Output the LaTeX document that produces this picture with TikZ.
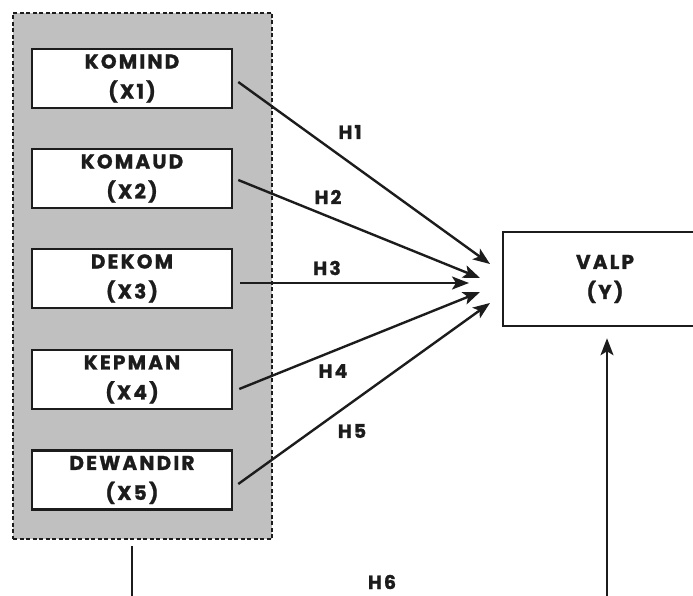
\documentclass[tikz,border=0pt]{standalone}
\usepackage{fontspec}
\setmainfont{Poppins}
\newfontfamily\boxfont{Poppins}[LetterSpace=11, BoldFeatures={FakeBold=1.2}]
\usetikzlibrary{arrows.meta,calc}

\definecolor{panelgray}{RGB}{192,192,192}
\definecolor{ink}{RGB}{28,28,28}

\tikzset{
  varbox/.style={draw=ink, line width=2.5pt, fill=white, minimum width=200pt,
    minimum height=59pt, inner sep=0pt, align=center, text=ink,
    font=\boxfont\bfseries\fontsize{20}{30}\selectfont},
  panel/.style={draw=ink, line width=2.4pt, fill=panelgray,
    dash pattern=on 4pt off 2.5pt, minimum width=259pt, minimum height=526pt,
    inner sep=0pt},
  link/.style={draw=ink, line width=2.4pt,
    -{Stealth[length=17pt,width=13pt,inset=4pt]}},
  hlabel/.style={text=ink, font=\boxfont\bfseries\fontsize{19}{21}\selectfont}
}

\begin{document}
\begin{tikzpicture}[x=1pt,y=-1pt]
\useasboundingbox (0,0) rectangle (693,596);
\clip (0,0) rectangle (693,596);

% grouped independent variables
\node[panel] (grp) at (142.5,276) {};
\node[varbox] (x1) at (132,78.5) {KOMIND\\(X1)};
\node[varbox] (x2) at (132,178.5) {KOMAUD\\(X2)};
\node[varbox] (x3) at (132,278.5) {DEKOM\\(X3)};
\node[varbox] (x4) at (132,379.5) {KEPMAN\\(X4)};
\node[varbox] (x5) at (132,480) {DEWANDIR\\(X5)};

% dependent variable
\node[varbox, minimum width=204pt, minimum height=94pt] (y) at (605,279) {VALP\\(Y)};

% arrow tips gathered just left of the VALP box
\coordinate (t1) at (490,264);
\coordinate (t2) at (480,278);
\coordinate (t3) at (469,283);
\coordinate (t4) at (480,292);
\coordinate (t5) at (490,303);

\draw[link] ([xshift=5pt,yshift=-3.5pt]x1.east) -- (t1);
\draw[link] ([xshift=5pt,yshift=-1.5pt]x2.east) -- (t2);
\draw[link] ([xshift=7pt,yshift=-4.5pt]x3.east) -- (t3);
\draw[link] ([xshift=6pt,yshift=-9.5pt]x4.east) -- (t4);
\draw[link] ([xshift=5pt,yshift=-4pt]x5.east) -- (t5);

% hypothesis labels
\node[hlabel] (h1) at (350,132) {H1};
\node[hlabel] (h2) at (328,197) {H2};
\node[hlabel] (h3) at (327,268) {H3};
\node[hlabel] (h4) at (333,371) {H4};
\node[hlabel] (h5) at (352,431) {H5};
\node[hlabel] (h6) at (382,582) {H6};

% joint effect H6: from the panel round to VALP
\draw[link] ([xshift=-10.5pt,yshift=-6pt]grp.south) -- ++(0,95)
  -- ++(475,0) -- ([xshift=2pt,yshift=-11pt]y.south);
\end{tikzpicture}
\end{document}
